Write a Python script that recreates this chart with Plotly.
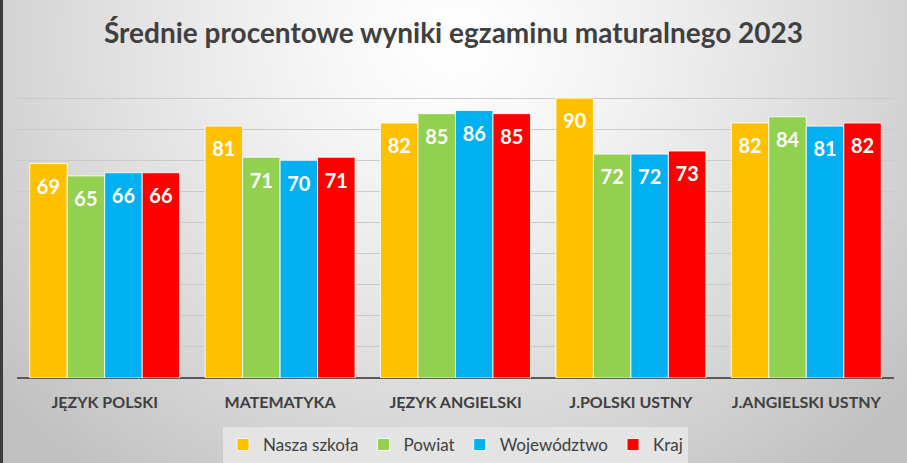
import base64
import struct
import zlib

import numpy as np
import plotly.graph_objects as go

# ---------------- data ----------------
categories = ["JĘZYK POLSKI", "MATEMATYKA", "JĘZYK ANGIELSKI", "J.POLSKI USTNY", "J.ANGIELSKI USTNY"]
series_names = ["Nasza szkoła", "Powiat", "Województwo", "Kraj"]
nasza_szkola = [69, 81, 82, 90, 82]
powiat = [65, 71, 85, 72, 84]
wojewodztwo = [66, 70, 86, 72, 81]
kraj = [66, 71, 85, 73, 82]
series_values = [nasza_szkola, powiat, wojewodztwo, kraj]
series_colors = ["#FFC000", "#92D050", "#00B0F0", "#FF0000"]
title_text = "Średnie procentowe wyniki egzaminu maturalnego 2023"

# ---------------- background gradient (radial, light centre at top) ----------------
W, H = 907, 463
yy, xx = np.mgrid[0:H, 0:W].astype(float)
d = np.sqrt(((xx - 453) / 600.0) ** 2 + ((yy - 40) / 560.0) ** 2)
d = np.clip(d, 0, 1)
img = 255 - (255 - 192) * d ** 1.3
img[:, :3] = 60
img = img.astype(np.uint8)
raw = b"".join(b"\x00" + img[r].tobytes() for r in range(H))


def _chunk(t, data):
    return struct.pack(">I", len(data)) + t + data + struct.pack(">I", zlib.crc32(t + data) & 0xFFFFFFFF)


png = (b"\x89PNG\r\n\x1a\n" + _chunk(b"IHDR", struct.pack(">IIBBBBB", W, H, 8, 0, 0, 0, 0))
       + _chunk(b"IDAT", zlib.compress(raw, 9)) + _chunk(b"IEND", b""))
bg_uri = "data:image/png;base64," + base64.b64encode(png).decode()

# ---------------- figure ----------------
ML, MR, MT, MB = 17, 13, 67, 85
PW, PH = W - ML - MR, H - MT - MB

fig = go.Figure()
for name, vals, col in zip(series_names, series_values, series_colors):
    fig.add_trace(go.Bar(
        x=categories, y=vals, name=name,
        marker=dict(color=col, line=dict(color="rgba(255,255,255,0.85)", width=1)),
        hoverinfo="skip",
    ))
for name, vals in zip(series_names, series_values):
    fig.add_trace(go.Scatter(
        x=categories, y=vals, mode="markers+text", text=[str(v) for v in vals],
        textposition="bottom center",
        textfont=dict(family="Lato", size=20, color="white", weight="bold"),
        marker=dict(size=23, opacity=0),
        showlegend=False, hoverinfo="skip", cliponaxis=False,
    ))

fig.update_layout(
    width=W, height=H,
    margin=dict(l=ML, r=MR, t=MT, b=MB, autoexpand=False),
    paper_bgcolor="#d0d0d0",
    plot_bgcolor="rgba(0,0,0,0)",
    barmode="group", bargap=0.145, bargroupgap=0,
    scattermode="group", scattergap=0.145,
    font=dict(family="Lato", color="#404040"),
    title=dict(text=title_text, x=0.5, xref="container", xanchor="center",
               y=1 - 33 / H, yref="container", yanchor="middle",
               font=dict(family="Lato", size=28, color="#404040", weight="bold")),
    legend=dict(orientation="h", x=0.5, xanchor="center", yref="container", y=(H - 445) / H,
                yanchor="middle", bgcolor="#e4e4e4",
                font=dict(family="Lato", size=17, color="#404040"),
                itemwidth=30, traceorder="normal"),
    xaxis=dict(showgrid=False, showline=False, ticks="", ticklabelstandoff=13,
               tickfont=dict(family="Lato", size=16, color="#404040", weight="bold")),
    yaxis=dict(range=[0, 100], dtick=10, showticklabels=False, showgrid=True,
               gridcolor="#cacaca", gridwidth=1, zeroline=True, zerolinecolor="#595959",
               zerolinewidth=2, fixedrange=True),
    images=[dict(source=bg_uri, xref="paper", yref="paper", x=-ML / PW, y=1 + MT / PH,
                 sizex=W / PW, sizey=H / PH, xanchor="left", yanchor="top",
                 sizing="stretch", layer="below")],
    showlegend=True,
)

fig.write_html("out.html", config={"displayModeBar": False},
               post_script="document.body.style.margin='0';document.body.style.overflow='hidden';")
